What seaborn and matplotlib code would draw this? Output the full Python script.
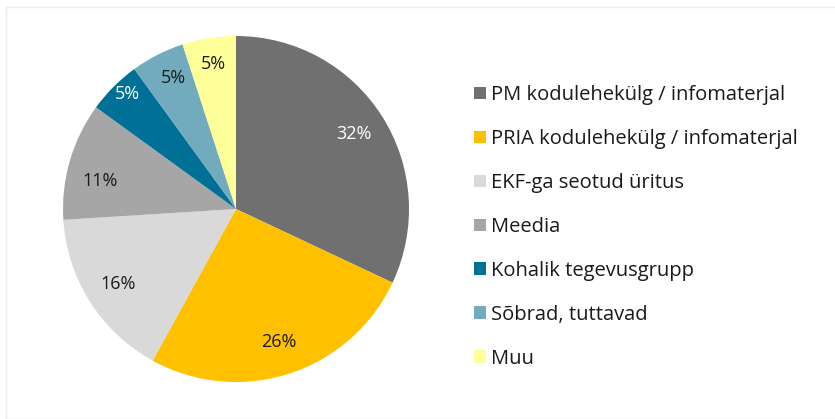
import numpy as np
import matplotlib.pyplot as plt
import seaborn as sns
from matplotlib.patches import Rectangle

sns.set_theme(style="white")
plt.rcParams['font.family'] = ['Open Sans', 'DejaVu Sans']

categories = [
    "PM kodulehekülg / infomaterjal",
    "PRIA kodulehekülg / infomaterjal",
    "EKF-ga seotud üritus",
    "Meedia",
    "Kohalik tegevusgrupp",
    "Sõbrad, tuttavad",
    "Muu",
]
shares = [32, 26, 16, 11, 5, 5, 5]
colors = ["#707070", "#FFC000", "#D9D9D9", "#A6A6A6", "#007096", "#71ABBD", "#FFFF99"]
label_colors = ["white", "#1a1a1a", "#1a1a1a", "#1a1a1a", "white", "#1a1a1a", "#1a1a1a"]
# radial distance / angle nudge of each percentage label (style only)
label_dist = [0.81, 0.81, 0.81, 0.80, 0.915, 0.84, 0.85]
label_nudge = [0, 0, 0, 4.5, -1.5, -1.5, 0]

fig = plt.figure(figsize=(8.35, 4.19), dpi=100)
fig.patch.set_facecolor("white")

# faint outer frame
fig.add_artist(Rectangle((6 / 835, 0), 1, 1 - 7 / 419, transform=fig.transFigure,
                         fill=False, edgecolor="#ececec", linewidth=1))

ax = fig.add_axes([63 / 835, 1 - 382 / 419, 346 / 835, 346 / 419])
wedges, texts, autotexts = ax.pie(
    shares,
    colors=colors,
    startangle=90,
    counterclock=False,
    autopct=lambda p: f"{p:.0f}%",
    pctdistance=0.81,
    wedgeprops=dict(linewidth=0),
    textprops=dict(fontsize=13),
)
for w, t, c, d, n in zip(wedges, autotexts, label_colors, label_dist, label_nudge):
    ang = np.deg2rad((w.theta1 + w.theta2) / 2 + n)
    t.set_position((d * np.cos(ang), d * np.sin(ang)))
    t.set_color(c)
ax.set_xlim(-1, 1)
ax.set_ylim(-1, 1)
ax.set_aspect("equal")

leg = fig.legend(
    wedges, categories,
    loc="upper left", bbox_to_anchor=(456 / 835, 1 - 67 / 419),
    frameon=False, fontsize=14.5,
    handlelength=0.6, handleheight=0.6, handletextpad=0.25,
    labelspacing=1.19,
)
for txt in leg.get_texts():
    txt.set_color("#1a1a1a")

fig.savefig("out.png", dpi=100)
